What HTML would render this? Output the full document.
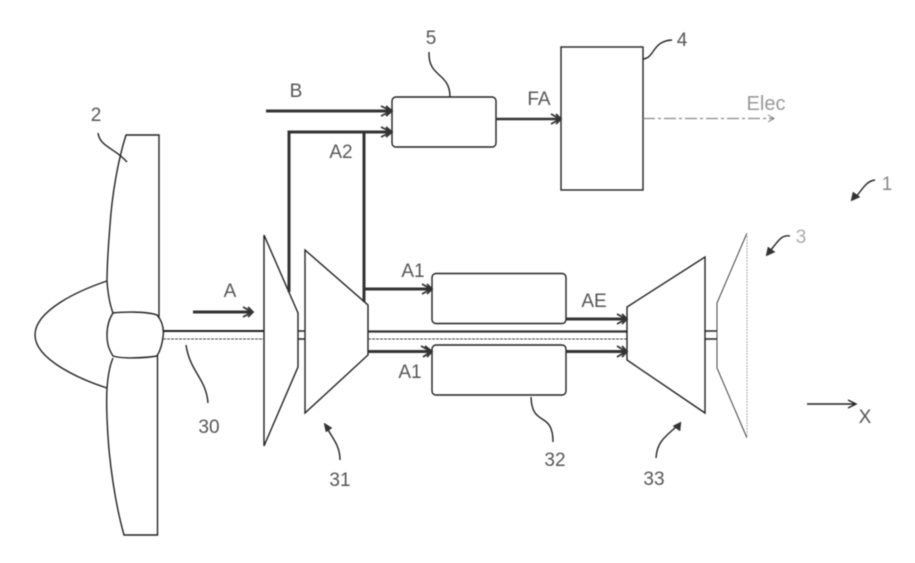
<!DOCTYPE html>
<html>
<head>
<meta charset="utf-8">
<style>
html,body{margin:0;padding:0;background:#fff;width:915px;height:563px;overflow:hidden}
svg{display:block;filter:blur(0.4px)}
text{font-family:"Liberation Sans",sans-serif;font-size:19px;fill:#555;text-anchor:middle}
.l{fill:none;stroke:#222;stroke-width:1.4}
.t{fill:none;stroke:#444;stroke-width:1}
.f{fill:none;stroke:#333;stroke-width:3}
.a{fill:none;stroke:#333;stroke-width:1.8}
.s{fill:#333;stroke:#333;stroke-width:.5}
</style>
</head>
<body>
<svg width="915" height="563" viewBox="0 0 915 563" xmlns="http://www.w3.org/2000/svg">
  <!-- fan -->
  <path class="l" d="M159 317V135H126C118 160 112 195 110 225C108 250 107 265 107 281C108 295 110 305 113 313"/>
  <path class="l" d="M157.500 355V535H124C117 510 112 480 109 450C107 425 106 405 107 388C108 375 110 365 113 358"/>
  <path class="l" d="M113 313C122 312 146 311 157 315C163 322 164 330 163 337C162 346 160 351 157 356C145 358 122 359 113 356C108 348 107 342 107 335C107 326 109 319 113 313Z"/>
  <path class="l" d="M107 281C80 290 35 310 35 335C35 360 82 380 107 388"/>
  <!-- shaft 30 -->
  <path class="l" d="M163 331H264" style="stroke-width:2"/>
  <path class="t" d="M163 339H264" stroke-dasharray="3 1"/>
  <!-- compressor 1 -->
  <path class="l" d="M264 235V446L298 367V313Z"/>
  <path class="l" d="M298 331H305M298 339H305"/>
  <!-- compressor 2 -->
  <path class="l" d="M305 250V413L368 355V305Z"/>
  <!-- main shaft -->
  <path class="f" d="M368 331.500H627" style="stroke-width:2.200"/>
  <path class="t" d="M368 339H627" stroke-dasharray="3 1"/>
  <!-- combustors -->
  <rect class="l" x="432" y="273.500" width="134" height="50" rx="4"/>
  <rect class="l" x="432" y="345" width="134" height="50" rx="4"/>
  <!-- turbine -->
  <path class="l" d="M627 307L705 257V413L627 360Z"/>
  <path class="l" d="M705 331H717M705 339H717"/>
  <!-- nozzle -->
  <path class="t" d="M747 233L717 303V368L747 438"/>
  <path d="M747 233V438" fill="none" stroke="#aaa" stroke-width="1" stroke-dasharray="2 1"/>
  <!-- boxes -->
  <rect class="l" x="392" y="97" width="104" height="50" rx="4"/>
  <rect class="l" x="561" y="47" width="82" height="143"/>
  <!-- air lines -->
  <path class="f" d="M266 111H390"/>
  <path class="a" d="M381 106L391 111L381 116M386 106L392 111L386 116"/>
  <path class="f" d="M289 292V132H390M364 132V302"/>
  <path class="a" d="M381 127L391 132L381 137M386 127L392 132L386 137"/>
  <path class="f" d="M496 119H560" style="stroke-width:2.400"/>
  <path class="a" d="M551 114L560 119L551 124M556 114L561 119L556 124"/>
  <path class="f" d="M365 289H430"/>
  <path class="a" d="M422 284L431 289L422 294M427 284L432 289L427 294"/>
  <path class="f" d="M368 351.500H430"/>
  <path class="a" d="M421 346L431 351.500L423 357M425 346L432 351.500L427 357"/>
  <path class="f" d="M566 319H625"/>
  <path class="a" d="M617 314L626 319L617 324M622 314L627 319L622 324"/>
  <path class="f" d="M566 351.500H625"/>
  <path class="a" d="M617 346L626 351.500L617 357M622 346L627 351.500L622 357"/>
  <path class="f" d="M193 312H251"/>
  <path class="a" d="M243 307L252 312L243 317M248 307L253 312L248 317"/>
  <!-- Elec -->
  <path d="M643 118.500H774" fill="none" stroke="#888" stroke-width="1.300" stroke-dasharray="12 3 3 3"/>
  <path d="M768 115L774 118.500L768 122" fill="none" stroke="#777" stroke-width="1"/>
  <!-- X arrow -->
  <path class="l" d="M807 404H855M848 400L856 404L848 408"/>
  <!-- leaders -->
  <path class="l" d="M98 133C100 147 115 148 127 162"/>
  <path class="l" d="M429 52C428 78 450 72 450 97"/>
  <path class="l" d="M643 59C655 58 652 41 672 40"/>
  <path class="l" d="M186 345C190 372 206 378 208 403"/>
  <path class="l" d="M531 397C532 428 553 410 553 442"/>
  <path class="l" d="M340 460C340 445 332 438 326 426"/>
  <path class="s" d="M324 423L332 428L326 432Z"/>
  <path class="l" d="M656 458C657 440 668 435 678 425"/>
  <path class="s" d="M681 422L680 431L673 426Z"/>
  <path class="l" d="M790 236C780 234 776 245 769 252"/>
  <path class="s" d="M766 256L768 247L775 252Z"/>
  <path class="l" d="M875 180C866 181 862 190 855 198"/>
  <path class="s" d="M851 201L853 192L860 197Z"/>
  <!-- labels -->
  <text x="96" y="121">2</text>
  <text x="431" y="44">5</text>
  <text x="682" y="46">4</text>
  <text x="296" y="97">B</text>
  <text x="341" y="158">A2</text>
  <text x="539" y="105">FA</text>
  <text x="766" y="110" style="font-size:20px;fill:#999">Elec</text>
  <text x="887" y="190" style="fill:#888">1</text>
  <text x="801" y="243" style="fill:#aaa">3</text>
  <text x="230" y="297">A</text>
  <text x="413" y="277">A1</text>
  <text x="594" y="307">AE</text>
  <text x="410" y="378">A1</text>
  <text x="209" y="433">30</text>
  <text x="340" y="486">31</text>
  <text x="555" y="466">32</text>
  <text x="654" y="485">33</text>
  <text x="865" y="423">X</text>
</svg>
</body>
</html>
